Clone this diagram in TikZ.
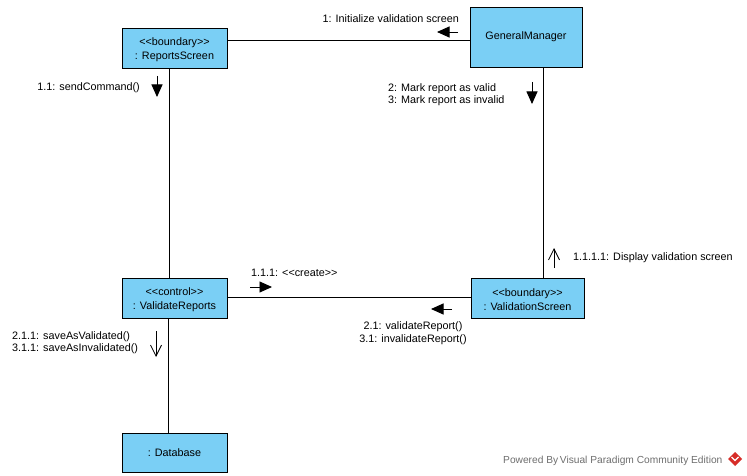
\documentclass[tikz,border=0pt]{standalone}
\usepackage{fontspec}
\setmainfont{Liberation Sans}
\usetikzlibrary{arrows.meta}
\definecolor{objfill}{RGB}{122,207,245}
\definecolor{wmgray}{RGB}{110,110,110}
\definecolor{vpred}{RGB}{215,45,40}
% guillemet-free stereotype brackets
\newcommand\stlt{<\kern0pt<}
\newcommand\stgt{>\kern0pt>}
% strut that lowers a two-line object caption slightly
\newcommand\capstrut{\rule{0pt}{12pt}}
\begin{document}
\begin{tikzpicture}[x=1pt,y=-1pt,
  obj/.style={draw=black, fill=objfill, line width=0.9pt, inner sep=0pt,
    align=center, font=\fontsize{10.8}{14}\selectfont},
  link/.style={line width=0.9pt},
  msgfill/.style={line width=0.9pt, -{Triangle[length=12.5pt,width=11pt]}},
  msgopen/.style={line width=0.8pt, -{Straight Barb[length=11pt,width=11pt]}},
  lbl/.style={font=\fontsize{10.8}{12.5}\selectfont, inner sep=0pt},
  wm/.style={font=\fontsize{10.2}{12}\selectfont, inner sep=0pt, text=wmgray}
]
% canvas
\fill[white] (0,0) rectangle (747,476);
\useasboundingbox (0,0) rectangle (747,476);

% objects
\node[obj, minimum width=105pt, minimum height=40pt] (rs) at (174.5,48)
  {\capstrut\stlt boundary\stgt\\: ReportsScreen};
\node[obj, minimum width=112pt, minimum height=60pt] (gm) at (526,37)
  {GeneralManager};
\node[obj, minimum width=105pt, minimum height=40pt] (vr) at (174.5,298)
  {\capstrut\stlt control\stgt\\: ValidateReports};
\node[obj, minimum width=113pt, minimum height=40pt] (vs) at (527.5,298)
  {\capstrut\stlt boundary\stgt\\: ValidationScreen};
\node[obj, minimum width=105pt, minimum height=39pt] (db) at (174.5,452.5)
  {: Database};

% links
\draw[link] (rs.east |- 0,40) -- (gm.west |- 0,40);
\draw[link] (rs.south -| 169,0) -- (vr.north -| 169,0);
\draw[link] (gm.south -| 543,0) -- (vs.north -| 543,0);
\draw[link] (vr.east |- 0,297) -- (vs.west |- 0,297);
\draw[link] (vr.south -| 168,0) -- (db.north -| 168,0);

% message arrows
\coordinate (m1s) at (458,32);   \coordinate (m1e) at (437,32);
\coordinate (m11s) at (157,76);  \coordinate (m11e) at (157,97);
\coordinate (m2s) at (532,82);   \coordinate (m2e) at (532,104);
\coordinate (m111s) at (250,287); \coordinate (m111e) at (272,287);
\coordinate (m1111s) at (554,268); \coordinate (m1111e) at (554,248);
\coordinate (m21s) at (452,309);  \coordinate (m21e) at (431,309);
\coordinate (m211s) at (156,331); \coordinate (m211e) at (156,357);

\draw[msgfill] (m1s) -- (m1e);
\draw[msgfill] (m11s) -- (m11e);
\draw[msgfill] (m2s) -- (m2e);
\draw[msgfill] (m111s) -- (m111e);
\draw[msgfill] (m21s) -- (m21e);
\draw[msgopen] (m1111s) -- (m1111e);
\draw[msgopen] (m211s) -- (m211e);

% message labels (multi-line labels sit on the baseline of their last line)
\node[lbl, anchor=base east] (l1) at (459,23) {1: Initialize validation screen};
\node[lbl, anchor=base east] (l11) at (140,91) {1.1: sendCommand()};
\node[lbl, anchor=base west, align=left] (l2) at (388,104)
  {2: Mark report as valid\\3: Mark report as invalid};
\node[lbl, anchor=base west] (l111) at (251,276) {1.1.1: \stlt create\stgt};
\node[lbl, anchor=base west] (l1111) at (573,260) {1.1.1.1: Display validation screen};
\node[lbl, anchor=base, align=center] (l21) at (413,342)
  {2.1: validateReport()\\3.1: invalidateReport()};
\node[lbl, anchor=base west, align=left] (l211) at (12,351.5)
  {2.1.1: saveAsValidated()\\3.1.1: saveAsInvalidated()};

% footer mark
\node[wm, anchor=base west] (wmtext) at (503,463)
  {Powered By\,Visual Paradigm Community Edition};
\fill[vpred] (735,452) -- (742,459) -- (735,466) -- (728,459) -- cycle;
\draw[white, line width=1.2pt] (731.5,457) -- (735,460.5) -- (738.5,457);
\end{tikzpicture}
\end{document}
